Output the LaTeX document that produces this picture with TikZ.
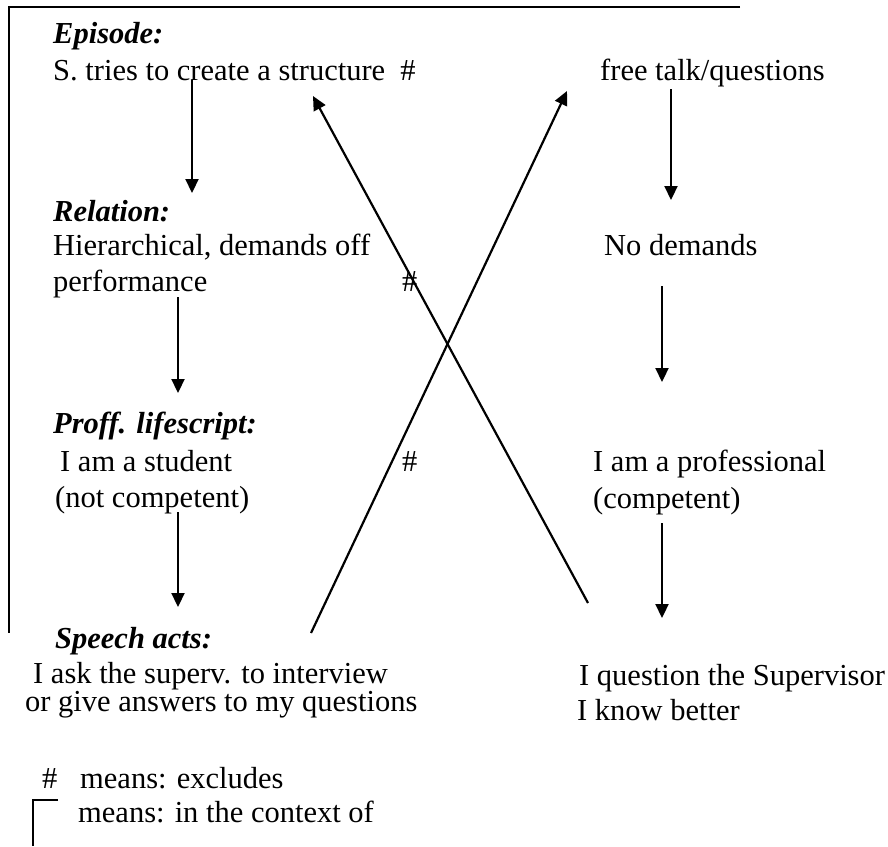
\documentclass[tikz,border=0pt]{standalone}
\usepackage{fontspec}
\setmainfont{Liberation Serif}[Ligatures={TeX,NoCommon}]
\usetikzlibrary{arrows.meta}
\begin{document}
\begin{tikzpicture}[x=1pt,y=-1pt,
  txt/.style={anchor=base west,inner sep=0pt,font=\fontsize{30.5}{36}\selectfont},
  head/.style={anchor=base west,inner sep=0pt,font=\fontsize{30.5}{36}\selectfont\bfseries\itshape},
  arr/.style={line width=2.2pt,-{Triangle[length=14pt,width=13pt]}},
  rule/.style={line width=2.2pt}]
\useasboundingbox (0,0) rectangle (888,846);
% frame
\coordinate (fA) at (740,7);
\coordinate (fB) at (9,7);
\coordinate (fC) at (9,633);
\draw[rule] (fA) -- (fB) -- (fC);
% texts
\node[head] (ep) at (53,43) {Episode:};
\node[txt] (epL) at (53,80) {S. tries to create a structure\hspace{0.5em}\#};
\node[txt] (epR) at (600,80) {free talk/questions};
\node[head] (rel) at (53,221) {Relation:};
\node[txt] (relL1) at (53,255) {Hierarchical, demands off};
\node[txt] (relL2) at (53,291) {performance};
\node[txt] (relH) at (402,291) {\#};
\node[txt] (relR) at (604,255) {No demands};
\node[head] (pl) at (53,433) {Proff. lifescript:};
\node[txt] (plL1) at (60,471) {I am a student};
\node[txt] (plL2) at (55,507) {(not competent)};
\node[txt] (plH) at (402,471) {\#};
\node[txt] (plR1) at (593,471) {I am a professional};
\node[txt] (plR2) at (593,508) {(competent)};
\node[head] (sa) at (55,648) {Speech acts:};
\node[txt,align=left,font=\fontsize{30.5}{26.5}\selectfont] (saL) at (25,711.5)
  {\hspace*{8pt}I ask the superv. to interview\\or give answers to my questions};
\node[txt,align=left,font=\fontsize{30.5}{35}\selectfont] (saR) at (577,720)
  {\hspace*{2pt}I question the Supervisor\\I know better};
% legend
\node[txt] (lgH) at (42,788) {\#};
\node[txt] (lg1) at (80,788) {means: excludes};
\node[txt] (lg2) at (78,822) {means: in the context of};
\coordinate (cA) at (58,800);
\coordinate (cB) at (33,800);
\coordinate (cC) at (33,846);
\draw[rule] (cA) -- (cB) -- (cC);
% vertical arrows
\coordinate (l1s) at (192,80);  \coordinate (l1e) at (192,193);
\coordinate (l2s) at (178,297); \coordinate (l2e) at (178,393);
\coordinate (l3s) at (178,512); \coordinate (l3e) at (178,607);
\coordinate (r1s) at (671,89);  \coordinate (r1e) at (671,200);
\coordinate (r2s) at (662,286); \coordinate (r2e) at (662,382);
\coordinate (r3s) at (662,523); \coordinate (r3e) at (662,618);
\draw[arr] (l1s) -- (l1e);
\draw[arr] (l2s) -- (l2e);
\draw[arr] (l3s) -- (l3e);
\draw[arr] (r1s) -- (r1e);
\draw[arr] (r2s) -- (r2e);
\draw[arr] (r3s) -- (r3e);
% crossing arrows
\coordinate (x1s) at (588,603); \coordinate (x1e) at (313,96);
\coordinate (x2s) at (311,633); \coordinate (x2e) at (567,91);
\draw[arr] (x1s) -- (x1e);
\draw[arr] (x2s) -- (x2e);
\end{tikzpicture}
\end{document}
